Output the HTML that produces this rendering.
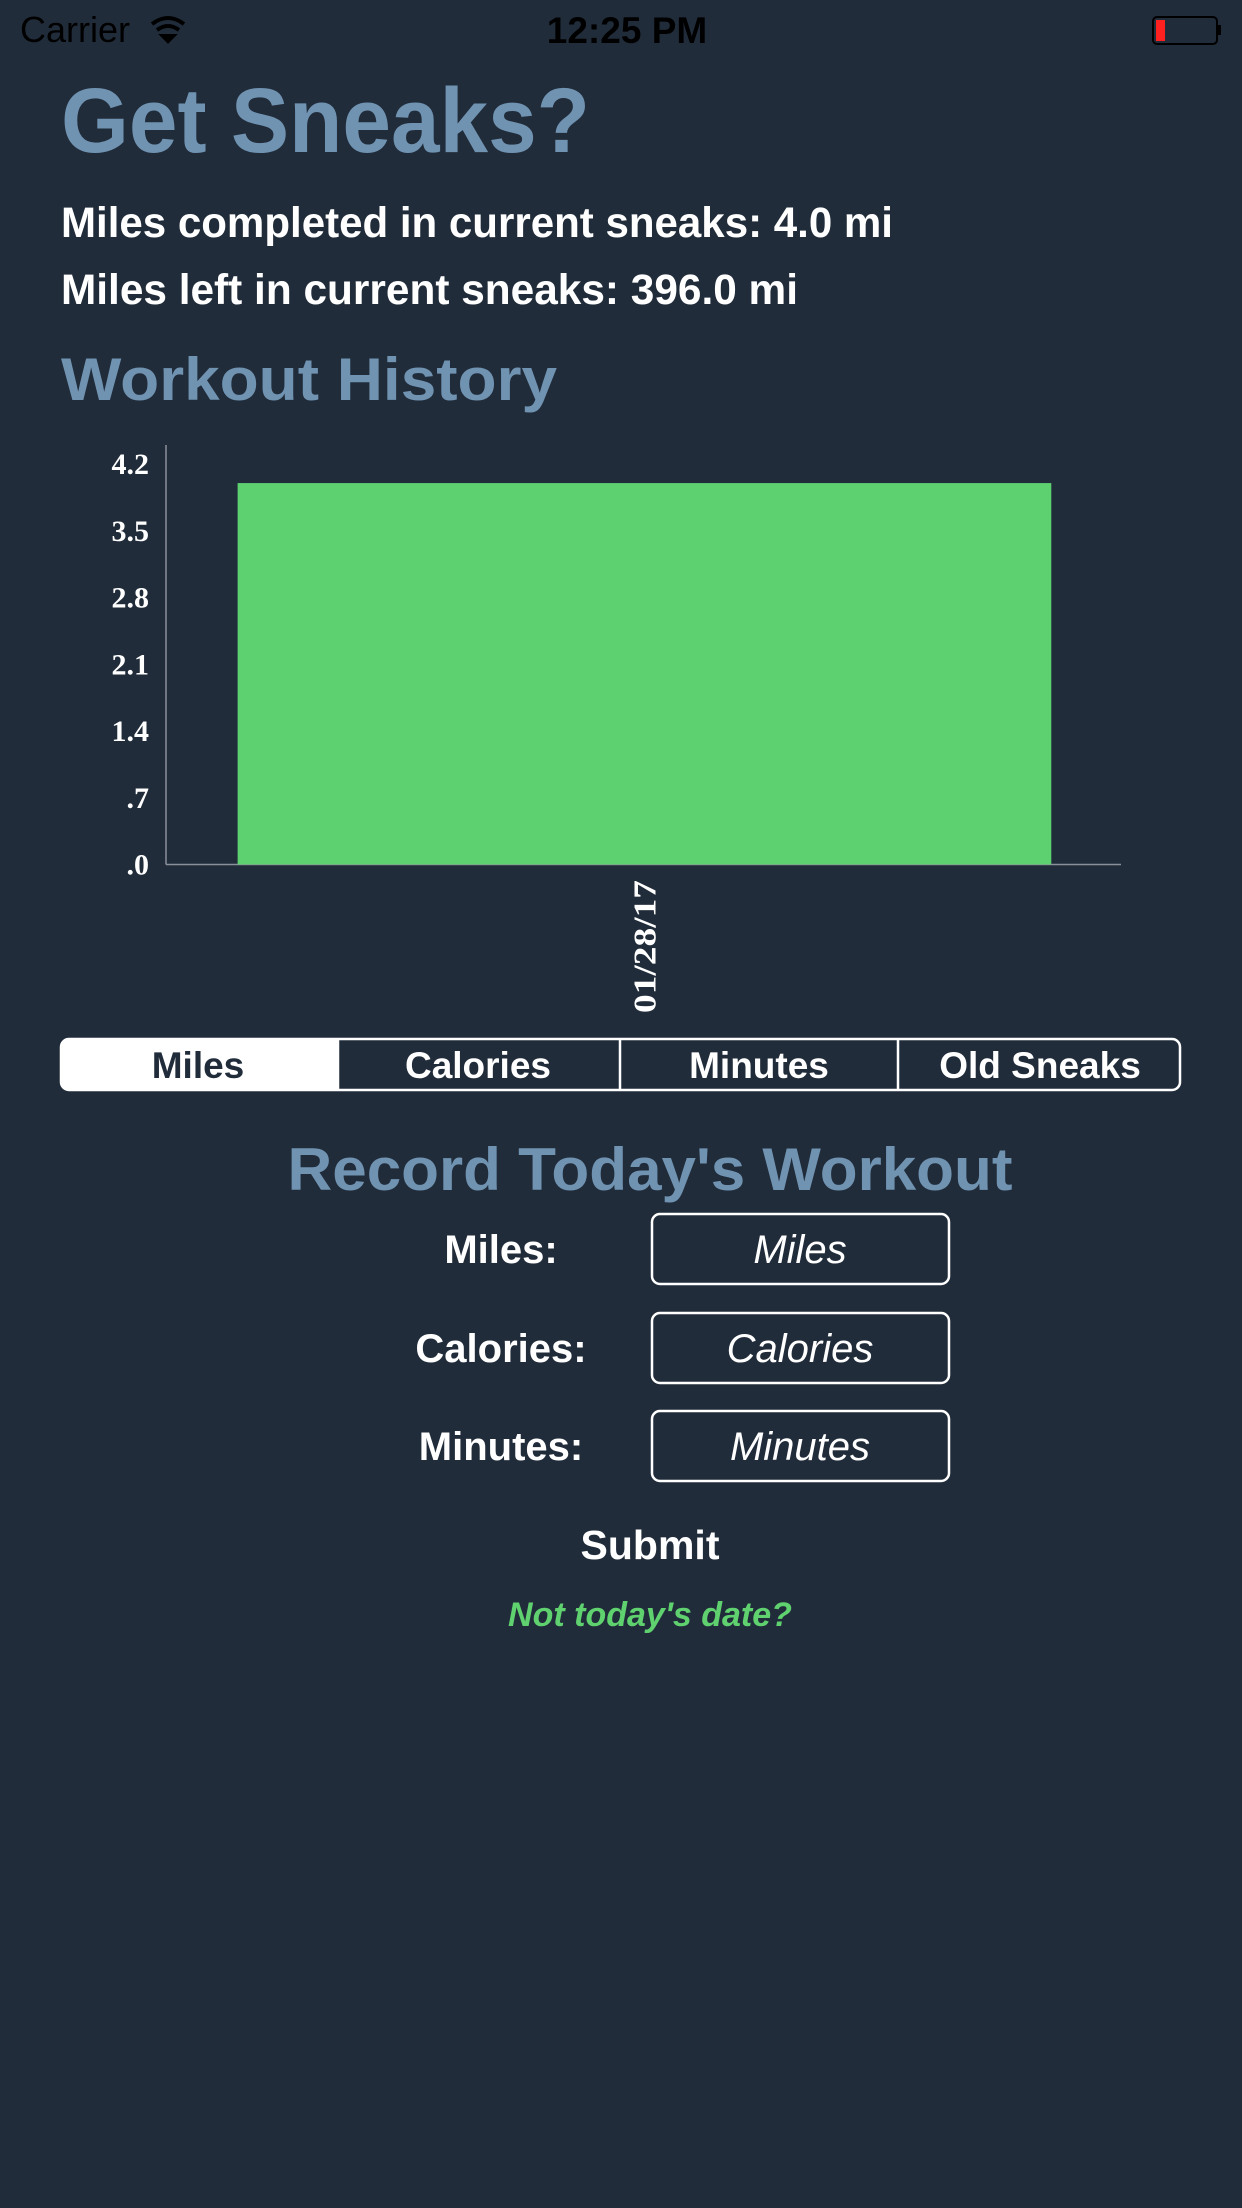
<!DOCTYPE html>
<html><head><meta charset="utf-8"><style>
html,body{margin:0;padding:0;background:#212c3a;}
svg{display:block;}
</style></head><body>
<svg width="1242" height="2208" viewBox="0 0 1242 2208" xmlns="http://www.w3.org/2000/svg">
<rect width="1242" height="2208" fill="#212c3a"/>
<g>
<text x="20" y="42" font-family="Liberation Sans, sans-serif" font-size="36" fill="#000">Carrier</text>
<g fill="none" stroke="#000" stroke-width="4">
<path d="M152 24 Q168 12 184 24"/><path d="M157 30 Q168 22 179 30"/><path d="M163 36 L168 41 L173 36 Z" fill="#000"/>
</g>
<text x="627" y="43" text-anchor="middle" font-family="Liberation Sans, sans-serif" font-size="37" font-weight="bold" fill="#000">12:25 PM</text>
<g>
<rect x="1153" y="17" width="64" height="27" rx="4" fill="none" stroke="#000" stroke-width="2"/>
<rect x="1218" y="25" width="3" height="10" fill="#000"/>
<rect x="1156" y="20" width="9" height="21" fill="#ff2020"/>
</g>
</g>
<text x="61" y="152" textLength="529" lengthAdjust="spacingAndGlyphs" font-family="Liberation Sans, sans-serif" font-weight="bold" font-size="92" fill="#7093b2">Get Sneaks?</text>
<text x="61" y="237" textLength="832" lengthAdjust="spacingAndGlyphs" font-family="Liberation Sans, sans-serif" font-weight="bold" font-size="43" fill="#fff">Miles completed in current sneaks:  4.0 mi</text>
<text x="61" y="304" textLength="737" lengthAdjust="spacingAndGlyphs" font-family="Liberation Sans, sans-serif" font-weight="bold" font-size="43" fill="#fff">Miles left in current sneaks:  396.0 mi</text>
<text x="61" y="400" textLength="496" lengthAdjust="spacingAndGlyphs" font-family="Liberation Sans, sans-serif" font-weight="bold" font-size="60" fill="#7093b2">Workout History</text>
<g id="chart"></g>
<g>
<rect x="61" y="1039" width="1119" height="51" rx="8" fill="none" stroke="#fff" stroke-width="2.5"/>
<path d="M69 1039 H338 V1090 H69 A8 8 0 0 1 61 1082 V1047 A8 8 0 0 1 69 1039 Z" fill="#fff"/>
<line x1="338" y1="1039" x2="338" y2="1090" stroke="#fff" stroke-width="2.5"/>
<line x1="620" y1="1039" x2="620" y2="1090" stroke="#fff" stroke-width="2.5"/>
<line x1="898" y1="1039" x2="898" y2="1090" stroke="#fff" stroke-width="2.5"/>
<g font-family="Liberation Sans, sans-serif" font-size="37" font-weight="bold" text-anchor="middle">
<text x="198" y="1078" fill="#212c3a">Miles</text>
<text x="478" y="1078" fill="#fff">Calories</text>
<text x="759" y="1078" fill="#fff">Minutes</text>
<text x="1040" y="1078" fill="#fff">Old Sneaks</text>
</g>
</g>
<text x="650" y="1190" text-anchor="middle" textLength="725" lengthAdjust="spacingAndGlyphs" font-family="Liberation Sans, sans-serif" font-weight="bold" font-size="60" fill="#7093b2">Record Today's Workout</text>
<g font-family="Liberation Sans, sans-serif" font-size="40" fill="#fff" font-weight="bold" text-anchor="middle">
<text x="501" y="1263">Miles:</text>
<text x="501" y="1362">Calories:</text>
<text x="501" y="1460">Minutes:</text>
</g>
<g fill="none" stroke="#fff" stroke-width="2.5">
<rect x="652" y="1214" width="297" height="70" rx="8"/>
<rect x="652" y="1313" width="297" height="70" rx="8"/>
<rect x="652" y="1411" width="297" height="70" rx="8"/>
</g>
<g font-family="Liberation Sans, sans-serif" font-size="40" fill="#fff" font-style="italic" text-anchor="middle">
<text x="800" y="1263">Miles</text>
<text x="800" y="1362">Calories</text>
<text x="800" y="1460">Minutes</text>
</g>
<text x="650" y="1559" text-anchor="middle" font-family="Liberation Sans, sans-serif" font-weight="bold" font-size="41" fill="#fff">Submit</text>
<text x="650" y="1626" text-anchor="middle" font-family="Liberation Sans, sans-serif" font-style="italic" font-weight="bold" font-size="34" fill="#5fd16f">Not today's date?</text>
</svg>
<script>
const categories = ["01/28/17"];
const milesValues = [4.0];
const tickLabels = ["4.2", "3.5", "2.8", "2.1", "1.4", ".7", ".0"];
const tickValues = [4.2, 3.5, 2.8, 2.1, 1.4, 0.7, 0.0];
(function(){
  const NS = "http://www.w3.org/2000/svg";
  const g = document.getElementById('chart');
  const x0 = 166, x1 = 1121, yBase = 864.5, yMaxPx = 464, vMax = 4.2;
  const y = v => yBase - (v / vMax) * (yBase - yMaxPx);
  const band = (x1 - x0) / categories.length;
  function mk(tag, attrs){ const e = document.createElementNS(NS, tag); for (const k in attrs) e.setAttribute(k, attrs[k]); g.appendChild(e); return e; }
  const ya = mk('line', {x1:x0, y1:445, x2:x0, y2:yBase, stroke:'#8a9099', 'stroke-width':1.5});
  
  
  const xa = mk('line', {x1:x0, y1:yBase, x2:x1, y2:yBase, stroke:'#8a9099', 'stroke-width':1.5});
  
  
  tickValues.forEach((v, i) => {
    const t = mk('text', {x:149, y:y(v) + 10, 'text-anchor':'end', 'font-family':'Liberation Serif, serif', 'font-weight':'bold', 'font-size':30, fill:'#fff'});
    t.textContent = tickLabels[i];
    
    
  });
  categories.forEach((c, i) => {
    const bx = x0 + band * i + band * 0.075, bw = band * 0.852;
    const r = mk('rect', {x:bx, y:y(milesValues[i]), width:bw, height:yBase - y(milesValues[i]), fill:'#5dd070'});
    
    
    const cx = x0 + band * (i + 0.5) + 1;
    const t = mk('text', {x:0, y:0, 'text-anchor':'end', textLength:133, lengthAdjust:'spacingAndGlyphs', 'font-family':'Liberation Serif, serif', 'font-weight':'bold', 'font-size':32, fill:'#fff', transform:'translate(' + (cx + 11) + ',880) rotate(-90)'});
    t.textContent = c;
    
    
  });
})();
</script>
</body></html>
